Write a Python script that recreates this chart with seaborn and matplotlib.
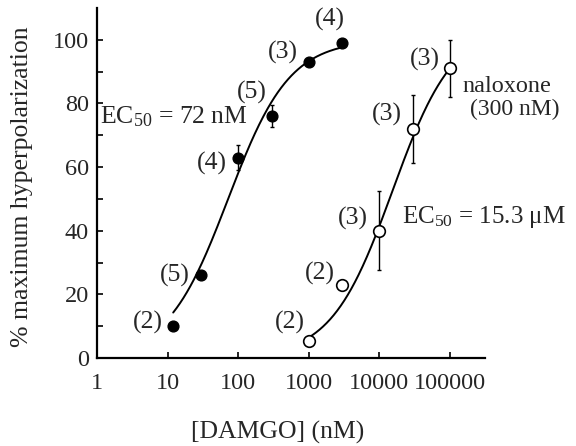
import numpy as np
import pandas as pd
import matplotlib
matplotlib.use("Agg")
import matplotlib.pyplot as plt
import seaborn as sns

# ---- data ----
damgo_conc = [12, 30, 100, 300, 1000, 3000]
damgo_resp = [10, 26, 63, 76, 93, 99]
damgo_err = [0, 0, 4, 3.5, 0, 0]
damgo_n = ["(2)", "(5)", "(4)", "(5)", "(3)", "(4)"]

nal_conc = [1000, 3000, 10000, 30000, 100000]
nal_resp = [5.5, 23, 40, 72, 91]
nal_err = [0, 0, 12.5, 10.7, 9]
nal_n = ["(2)", "(2)", "(3)", "(3)", "(3)"]

# fitted logistic parameters (EC50 given on chart)
damgo_ec50, damgo_top, damgo_hill = 72.0, 100.0, 1.0
nal_ec50, nal_top, nal_hill = 15300.0, 105.0, 1.0

xticks = [1, 10, 100, 1000, 10000, 100000]
xticklabels = ["1", "10", "100", "1000", "10000", "100000"]
yticks = [0, 20, 40, 60, 80, 100]

sns.set_style("ticks")
plt.rcParams["font.family"] = ["Liberation Serif", "DejaVu Serif"]
plt.rcParams["mathtext.fontset"] = "custom"
plt.rcParams["mathtext.rm"] = "Liberation Serif"
plt.rcParams["mathtext.it"] = "Liberation Serif:italic"

FS = 18.5
TFS = 17.5

fig = plt.figure(figsize=(5.76, 4.46), dpi=100)
ax = fig.add_axes([0.1684, 0.1973, 0.6736, 0.7848])
ax.set_xscale("log")


def hill(x, ec50, top, n):
    x = np.asarray(x, dtype=float)
    return top / (1.0 + (ec50 / x) ** n)


xc1 = np.logspace(np.log10(damgo_conc[0]), np.log10(damgo_conc[-1]), 200)
xc2 = np.logspace(np.log10(nal_conc[0]), np.log10(nal_conc[-1]), 200)
curve1 = pd.DataFrame({"x": xc1, "y": hill(xc1, damgo_ec50, damgo_top, damgo_hill)})
curve2 = pd.DataFrame({"x": xc2, "y": hill(xc2, nal_ec50, nal_top, nal_hill)})
sns.lineplot(data=curve1, x="x", y="y", ax=ax, color="black", lw=1.4, zorder=2)
sns.lineplot(data=curve2, x="x", y="y", ax=ax, color="black", lw=1.4, zorder=2)

# error bars
ax.errorbar(damgo_conc, damgo_resp, yerr=damgo_err, fmt="none", ecolor="black",
            elinewidth=1.0, capsize=1.5, capthick=1.0, zorder=3)
ax.errorbar(nal_conc, nal_resp, yerr=nal_err, fmt="none", ecolor="black",
            elinewidth=1.0, capsize=1.5, capthick=1.0, zorder=3)

d1 = pd.DataFrame({"x": damgo_conc, "y": damgo_resp})
d2 = pd.DataFrame({"x": nal_conc, "y": nal_resp})
sns.scatterplot(data=d1, x="x", y="y", ax=ax, color="black", s=60,
                edgecolor="black", linewidth=1.0, zorder=4)
sns.scatterplot(data=d2, x="x", y="y", ax=ax, color="white", s=70,
                edgecolor="black", linewidth=1.2, zorder=4)

# n labels
d_pos = [(8.6, 11.3, "right"), (20.8, 26.1, "right"), (69.4, 61.0, "right"),
         (157, 83.3, "center"), (431, 95.9, "center"), (2000, 106.3, "center")]
for (x, y, ha), lab in zip(d_pos, damgo_n):
    ax.text(x, y, lab, fontsize=FS, ha=ha, va="center")
n_pos = [(884, 11.3), (2350, 26.7), (6890, 44.0), (20900, 76.4), (72100, 93.7)]
for (x, y), lab in zip(n_pos, nal_n):
    ax.text(x, y, lab, fontsize=FS, ha="right", va="center")

ax.text(1.1, 75.8, r"EC$_{50}$ = 72 nM", fontsize=FS, ha="left", va="center")
ax.text(20900, 44.3, r"EC$_{50}$ = 15.3 μM", fontsize=18, ha="left", va="center")
ax.text(148000, 85.2, "naloxone", fontsize=17.5, ha="left", va="center")
ax.text(192000, 78.0, "(300 nM)", fontsize=17, ha="left", va="center")

ax.set_xlim(1, 313000)
ax.set_ylim(0, 110)
ax.set_xticks(xticks)
ax.set_xticklabels(xticklabels)
ax.xaxis.set_minor_locator(matplotlib.ticker.NullLocator())
ax.set_yticks(yticks)
ax.set_yticks(np.arange(10, 110, 20), minor=True)

ax.tick_params(axis="both", which="both", direction="in", length=4.5, width=1.2,
               labelsize=TFS, color="black")
ax.tick_params(axis="x", pad=11)
ax.tick_params(axis="y", pad=6)

for s in ["top", "right"]:
    ax.spines[s].set_visible(False)
for s in ["left", "bottom"]:
    ax.spines[s].set_linewidth(1.6)
    ax.spines[s].set_color("black")

ax.set_xlabel("[DAMGO] (nM)", fontsize=FS, va="center")
ax.set_ylabel("% maximum hyperpolarization", fontsize=FS, va="center")
ax.xaxis.set_label_coords(0.466, -0.214)
ax.yaxis.set_label_coords(-0.194, 0.489)

fig.savefig("out.png", dpi=100)
